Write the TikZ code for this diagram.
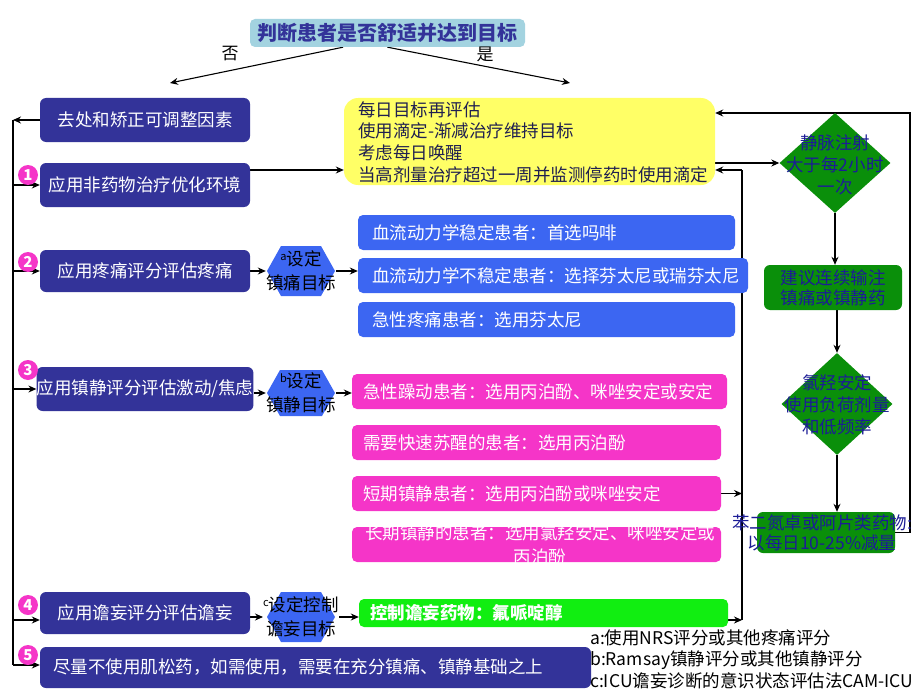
\documentclass[tikz,border=0pt]{standalone}
\usepackage{fontspec}
\setmainfont{Noto Sans CJK SC}
\usetikzlibrary{arrows.meta,shapes.geometric,backgrounds}
\definecolor{navyc}{HTML}{333399}
\definecolor{bluec}{HTML}{3C66F2}
\definecolor{pinkc}{HTML}{F535C8}
\definecolor{greenc}{HTML}{0A8F0A}
\definecolor{limec}{HTML}{11EE11}
\definecolor{yellc}{HTML}{FFFF66}
\definecolor{titlec}{HTML}{A3D3E0}
\definecolor{gtextc}{HTML}{1C1C96}
\definecolor{ytextc}{HTML}{202050}
\newcommand{\supl}[1]{\raisebox{0.55ex}{\fontsize{11}{11}\selectfont #1}}
\begin{document}
\begin{tikzpicture}[x=1pt,y=-1pt,
  font=\fontsize{17.5}{22}\selectfont,
  ln/.style={draw=black, line width=1.1pt},
  arr/.style={ln, -{Stealth[length=8pt,width=7pt]}},
  titlebox/.style={fill=titlec, rounded corners=5pt, minimum width=275pt, minimum height=28pt, inner sep=0pt, text=navyc, font=\bfseries\fontsize{20}{24}\selectfont},
  lbl/.style={inner sep=0pt, text=black, font=\fontsize{17}{20}\selectfont},
  navybox/.style={fill=navyc, rounded corners=6pt, text=white, inner sep=0pt, minimum width=210pt, minimum height=44pt},
  numc/.style={circle, fill=pinkc, text=white, minimum size=20pt, inner sep=0pt, font=\bfseries\fontsize{15}{15}\selectfont},
  ybox/.style={fill=yellc, rounded corners=14pt, minimum width=371pt, minimum height=87pt, inner sep=0pt},
  hext/.style={inner sep=0pt, minimum width=68pt, minimum height=46pt, align=center, text=black, font=\fontsize{17.5}{24}\selectfont},
  bluebox/.style={fill=bluec, rounded corners=5pt, text=white, inner ysep=0pt, inner xsep=14pt, minimum height=35pt, align=left},
  pinkbox/.style={fill=pinkc, rounded corners=5pt, text=white, inner ysep=0pt, inner xsep=11pt, minimum height=35pt, align=left},
  limebox/.style={fill=limec, rounded corners=5pt, text=white, inner ysep=0pt, inner xsep=11pt, minimum height=28pt, align=left, font=\bfseries\fontsize{17.5}{22}\selectfont},
  dia/.style={diamond, fill=greenc, minimum width=111pt, minimum height=100pt, inner sep=0pt},
  gtext/.style={inner sep=0pt, align=center, text=gtextc, font=\fontsize{17.5}{22}\selectfont},
  gbox/.style={fill=greenc, rounded corners=6pt, minimum width=138pt, minimum height=45pt, inner sep=0pt, align=center, text=gtextc, font=\fontsize{17.5}{20}\selectfont},
  note/.style={anchor=west, inner sep=0pt, text=black}
]
\useasboundingbox (0,0) rectangle (920,690);

% title
\node[titlebox] (T) at (387.5,33) {判断患者是否舒适并达到目标};
\node[lbl] (no) at (230,54) {否};
\node[lbl] (yes) at (485,54) {是};
\coordinate (noL) at (170,83);
\coordinate (noR) at (570,83);

% left column
\node[navybox] (A) at (145,120) {去处和矫正可调整因素};
\node[navybox] (n1) at (145,185) {应用非药物治疗优化环境};
\node[navybox, minimum height=42pt] (n2) at (145,271) {应用疼痛评分评估疼痛};
\node[navybox] (n3) at (145,389) {应用镇静评分评估激动/焦虑};
\node[navybox, minimum height=42pt] (n4) at (145,613) {应用谵妄评分评估谵妄};
\node[navybox, minimum width=551pt, minimum height=41pt, text width=525pt, inner xsep=13pt, align=left] (n5) at (315.5,667.5) {尽量不使用肌松药，如需使用，需要在充分镇痛、镇静基础之上};

\node[numc] (c1) at (28,175) {1};
\node[numc] (c2) at (28,262) {2};
\node[numc] (c3) at (28,370) {3};
\node[numc] (c4) at (28,605) {4};
\node[numc] (c5) at (28,655) {5};

\coordinate (L0) at (13,120);
\coordinate (L4) at (13,620);
\coordinate (L5) at (13,665);

% yellow box
\node[ybox] (Y) at (529.5,141.5) {};
\node[anchor=west, align=left, inner sep=0pt, text=ytextc, font=\fontsize{17.5}{21.7}\selectfont] (Yt) at (358,142) {每日目标再评估\\使用滴定-渐减治疗维持目标\\考虑每日唤醒\\当高剂量治疗超过一周并监测停药时使用滴定};

% hexagons
\fill[bluec] (267,271) -- (281,246) -- (321,246) -- (335,271) -- (321,296) -- (281,296) -- cycle;
\fill[bluec] (267,393) -- (280,370) -- (322,370) -- (335,393) -- (322,416) -- (280,416) -- cycle;
\fill[bluec] (267,617) -- (281,592) -- (321,592) -- (335,617) -- (321,642) -- (281,642) -- cycle;
\node[hext] (h1) at (301,271) {\supl{a}设定\\镇痛目标};
\node[hext] (h2) at (301,393) {\supl{b}设定\\镇静目标};
\node[hext] (h3) at (301,617) {\supl{c}设定控制\\谵妄目标};

% blue boxes
\node[bluebox, text width=349pt] (B1) at (546.5,232.5) {血流动力学稳定患者：首选吗啡};
\node[bluebox, text width=362pt] (B2) at (553,275.5) {血流动力学不稳定患者：选择芬太尼或瑞芬太尼};
\node[bluebox, text width=349pt] (B3) at (546.5,319.5) {急性疼痛患者：选用芬太尼};

% pink boxes
\node[pinkbox, text width=353pt] (P1) at (539.5,391.5) {急性躁动患者：选用丙泊酚、咪唑安定或安定};
\node[pinkbox, text width=347pt] (P2) at (536.5,442.5) {需要快速苏醒的患者：选用丙泊酚};
\node[pinkbox, text width=347pt] (P3) at (536.5,493.5) {短期镇静患者：选用丙泊酚或咪唑安定};
\node[pinkbox, minimum width=369pt] (P4) at (536.5,544.5) {};
\node[inner sep=0pt, align=center, text=white, font=\fontsize{17.5}{24}\selectfont] (P4t) at (540,545) {长期镇静的患者：选用氯羟安定、咪唑安定或\\丙泊酚};

% lime box
\node[limebox, text width=347pt] (G) at (543.5,613) {控制谵妄药物：氟哌啶醇};

% notes
\node[note] (fa) at (590,638) {a:使用NRS评分或其他疼痛评分};
\node[note] (fb) at (590,660) {b:Ramsay镇静评分或其他镇静评分};
\node[note] (fc) at (590,681) {c:ICU谵妄诊断的意识状态评估法CAM-ICU};

% right column
\node[dia] (D1) at (835,163) {};
\node[gtext] (D1t) at (835,165) {静脉注射\\大于每2小时\\一次};
\node[gbox] (G1) at (833,287.5) {建议连续输注\\镇痛或镇静药};
\node[dia, minimum height=102pt] (D2) at (837,404) {};
\node[gtext] (D2t) at (837,405) {氯羟安定\\使用负荷剂量\\和低频率};
\node[gbox, minimum height=41pt] (G2) at (826,532.5) {};
\node[gtext, font=\fontsize{17.5}{20}\selectfont] (G2t) at (822,533) {苯二氮卓或阿片类药物:\\以每日10-25\%减量};

\coordinate (R0) at (742,170);
\coordinate (R1) at (742,620);
\coordinate (RR) at (910,113);

\begin{scope}[on background layer]
  \draw[arr] ([xshift=-44.5pt]T.south) -- (noL);
  \draw[arr] (T.south) -- (noR);
  \draw[arr] (A.west) -- (L0);
  \draw[ln] (L0) -- (L5);
  \draw[arr] (L0 |- n1.west) -- (n1.west);
  \draw[arr] (L0 |- n2.west) -- (n2.west);
  \draw[arr] (L0 |- n3.west) -- (n3.west);
  \draw[arr] (L4) -- (L4 -| n4.west);
  \draw[arr] (L5) -- (L5 -| n5.west);
  \draw[arr] ([yshift=15pt]n1.east) -- ([yshift=-28.5pt]Y.west);
  \draw[arr] (n2.east) -- (h1.west);
  \draw[arr] (h1.east) -- (h1.east -| B2.west);
  \draw[arr] (n3.east |- h2.west) -- (h2.west);
  \draw[arr] (h2.east) -- (h2.east -| P1.west);
  \draw[arr] (n4.east |- h3.west) -- (h3.west);
  \draw[arr] (h3.east) -- (h3.east -| G.west);
  \draw[arr] (Y.east |- D1.west) -- (D1.west);
  \draw[ln] (R0) -- (R1);
  \draw[arr] (R0) -- (R0 -| Y.east);
  \draw[arr] (P3.east) -- (P3.east -| R0);
  \draw[arr] (G.east |- R1) -- (R1);
  \draw[arr] (D1.south) -- (D1.south |- G1.north);
  \draw[arr] (G1.south -| D2.north) -- (D2.north);
  \draw[arr] (D2.south) -- (D2.south |- G2.north);
  \draw[arr] (G2.east) -- (G2.east -| RR) -- (RR) -- (RR -| Y.east);
\end{scope}
\end{tikzpicture}
\end{document}
